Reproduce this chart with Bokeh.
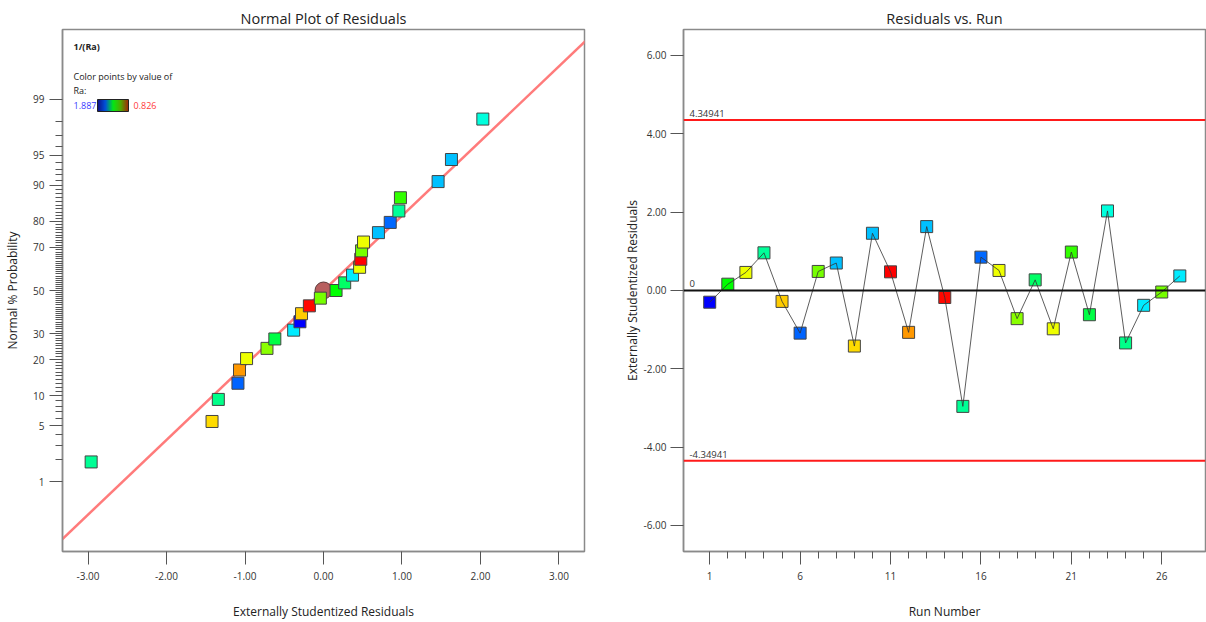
from statistics import NormalDist
import colorsys
import numpy as np
from bokeh.plotting import figure
from bokeh.models import (FixedTicker, Range1d, Slope, Span, Label, LinearColorMapper,
                          ColorBar, ColumnDataSource, NumeralTickFormatter)
from bokeh.layouts import row
from bokeh.embed import file_html
from bokeh.resources import INLINE

# ---------------- data ----------------
run_numbers = list(range(1, 28))
residuals = [-0.30, 0.16, 0.46, 0.96, -0.28, -1.09, 0.485, 0.70, -1.42, 1.46,
             0.475, -1.07, 1.63, -0.18, -2.96, 0.85, 0.51, -0.72, 0.27, -0.98,
             0.98, -0.62, 2.03, -1.34, -0.38, -0.04, 0.37]
ra_values = [1.887, 1.357, 1.109, 1.516, 1.038, 1.781, 1.233, 1.688, 1.056, 1.688,
             0.826, 0.985, 1.688, 0.835, 1.511, 1.776, 1.109, 1.215, 1.463, 1.109,
             1.303, 1.427, 1.586, 1.498, 1.639, 1.233, 1.639]
ra_low, ra_high = 0.826, 1.887
limit = 4.34941
prob_ticks = [1, 5, 10, 20, 30, 50, 70, 80, 90, 95, 99]
fit_slope = 0.909
run_major_ticks = [1, 6, 11, 16, 21, 26]
resid_ticks = [-6, -4, -2, 0, 2, 4, 6]
normal_x_ticks = [-3, -2, -1, 0, 1, 2, 3]

FONT = "Open Sans"

# rainbow palette: low Ra -> red, high Ra -> blue
palette = []
for h in np.linspace(0, 240, 256):
    r, g, b = colorsys.hsv_to_rgb(h / 360.0, 1.0, 1.0)
    palette.append("#%02x%02x%02x" % (int(r * 255), int(g * 255), int(b * 255)))
mapper = LinearColorMapper(palette=palette, low=ra_low, high=ra_high)

# legend gradient: dark blue -> blue -> green -> red-brown
stops = [(0.0, (15, 15, 130)), (0.25, (0, 80, 220)), (0.5, (0, 235, 20)),
         (0.75, (80, 170, 0)), (1.0, (165, 35, 10))]
grad = []
for i in range(64):
    t = i / 63
    for (t0, c0), (t1, c1) in zip(stops[:-1], stops[1:]):
        if t0 <= t <= t1:
            f = (t - t0) / (t1 - t0)
            c = tuple(int(round(a + (b - a) * f)) for a, b in zip(c0, c1))
            break
    grad.append("#%02x%02x%02x" % c)

nd = NormalDist()
def probit(pct):
    return round(nd.inv_cdf(pct / 100.0), 6)

def style_axes(p):
    for ax in (p.xaxis[0], p.yaxis[0]):
        ax.axis_line_color = "#8a8a8a"
        ax.axis_line_width = 1.5
        ax.major_tick_line_color = "#555555"
        ax.minor_tick_line_color = "#555555"
        ax.major_tick_out = 13
        ax.major_tick_in = 0
        ax.minor_tick_out = 7
        ax.minor_tick_in = 0
        ax.major_label_text_font = FONT
        ax.major_label_text_font_size = "10px"
        ax.major_label_text_color = "#333333"
        ax.axis_label_text_font = FONT
        ax.axis_label_text_font_size = "12px"
        ax.axis_label_text_font_style = "normal"
        ax.axis_label_text_color = "#222222"
    p.outline_line_color = "#8a8a8a"
    p.outline_line_width = 1.5
    p.xgrid.visible = False
    p.ygrid.visible = False
    p.title.align = "center"
    p.title.text_font = FONT
    p.title.text_font_size = "14.5px"
    p.title.text_font_style = "normal"
    p.title.text_color = "#222222"
    p.title.standoff = 4

# ---------------- left: normal plot ----------------
order = np.argsort(residuals)
n = len(residuals)
sorted_res = [residuals[i] for i in order]
sorted_ra = [ra_values[i] for i in order]
zscores = [nd.inv_cdf((k + 0.5) / n) for k in range(n)]
src_left = ColumnDataSource(dict(x=sorted_res, y=zscores, ra=sorted_ra))

p1 = figure(width=603, height=622, output_backend="svg", toolbar_location=None,
            title="Normal Plot of Residuals",
            x_range=Range1d(-3.325, 3.325), y_range=Range1d(-3.175, 3.175),
            min_border_left=62, min_border_right=19, min_border_top=29, min_border_bottom=70)
style_axes(p1)
p1.xaxis.ticker = FixedTicker(ticks=normal_x_ticks, minor_ticks=[])
p1.xaxis.formatter = NumeralTickFormatter(format="0.00")
p1.xaxis.axis_label = "Externally Studentized Residuals"
p1.xaxis.major_label_standoff = 7
p1.xaxis.axis_label_standoff = 20
major_z = [probit(p) for p in prob_ticks]
minor_z = [probit(p) for p in range(2, 99) if p not in prob_ticks]
p1.yaxis.ticker = FixedTicker(ticks=major_z, minor_ticks=minor_z)
p1.yaxis.major_label_overrides = {probit(p): str(p) for p in prob_ticks}
p1.yaxis.axis_label = "Normal % Probability"
p1.yaxis.major_label_standoff = 5
p1.yaxis.axis_label_standoff = 9

fit = Slope(gradient=fit_slope, y_intercept=0, line_color="#ff7b7b", line_width=2.5, level="underlay")
p1.add_layout(fit)
p1.scatter(x=[0], y=[0], marker="circle", size=17, fill_color="#b85f5f",
           line_color="#5a3a3a", line_width=1)
p1.scatter("x", "y", source=src_left, marker="square", size=12,
           fill_color={"field": "ra", "transform": mapper}, line_color="#444444", line_width=1)

def slabel(p, x, y, text, color="#222222", bold=False, size="9px"):
    p.add_layout(Label(x=x, y=y, x_units="screen", y_units="screen", text=text,
                       text_font=FONT, text_font_size=size, text_color=color,
                       text_baseline="middle", text_align="left",
                       text_font_style="bold" if bold else "normal"))

slabel(p1, 11, 505, "1/(Ra)", bold=True)
slabel(p1, 11, 475, "Color points by value of")
slabel(p1, 11, 461, "Ra:")
slabel(p1, 11, 446, "1.887", color="#3a3aff")
slabel(p1, 71, 446, "0.826", color="#ff3a3a")
grad_mapper = LinearColorMapper(palette=grad, low=0, high=1)
cb = ColorBar(color_mapper=grad_mapper, orientation="horizontal", location=(35, 440),
              width=31, height=12, padding=0, margin=0,
              ticker=FixedTicker(ticks=[]), major_label_text_font_size="0px",
              major_tick_line_color=None, minor_tick_line_color=None,
              bar_line_color="#222222", bar_line_width=1,
              background_fill_alpha=0, border_line_color=None, label_standoff=0)
p1.add_layout(cb)

# ---------------- right: residuals vs run ----------------
src_right = ColumnDataSource(dict(x=run_numbers, y=residuals, ra=ra_values))
p2 = figure(width=603, height=622, output_backend="svg", toolbar_location=None,
            title="Residuals vs. Run",
            x_range=Range1d(-0.45, 28.42), y_range=Range1d(-6.665, 6.662),
            min_border_left=80, min_border_right=1, min_border_top=28, min_border_bottom=71)
style_axes(p2)
p2.xaxis.ticker = FixedTicker(ticks=run_major_ticks,
                              minor_ticks=[r for r in range(2, 26) if r not in run_major_ticks])
p2.xaxis.axis_label = "Run Number"
p2.xaxis.major_label_standoff = 7
p2.xaxis.axis_label_standoff = 20
p2.yaxis.ticker = FixedTicker(ticks=resid_ticks, minor_ticks=[])
p2.yaxis.formatter = NumeralTickFormatter(format="0.00")
p2.yaxis.axis_label = "Externally Studentized Residuals"
p2.yaxis.major_label_standoff = 4
p2.yaxis.axis_label_standoff = 0

p2.scatter("x", "y", source=src_right, marker="square", size=12,
           fill_color={"field": "ra", "transform": mapper}, line_color="#444444", line_width=1)
p2.line("x", "y", source=src_right, line_color="#333333", line_width=0.8)
p2.add_layout(Span(location=limit, dimension="width", line_color="#ff1a1a", line_width=2))
p2.add_layout(Span(location=-limit, dimension="width", line_color="#ff1a1a", line_width=2))
p2.add_layout(Span(location=0, dimension="width", line_color="#111111", line_width=2))
for val, txt in [(limit, "4.34941"), (-limit, "-4.34941"), (0, "0")]:
    p2.add_layout(Label(x=6, x_units="screen", y=val, text=txt, y_offset=3,
                        text_font=FONT, text_font_size="9.5px", text_color="#333333",
                        text_baseline="bottom", text_align="left"))

layout = row(p1, p2)
open("out.html", "w").write(file_html(layout, INLINE))
